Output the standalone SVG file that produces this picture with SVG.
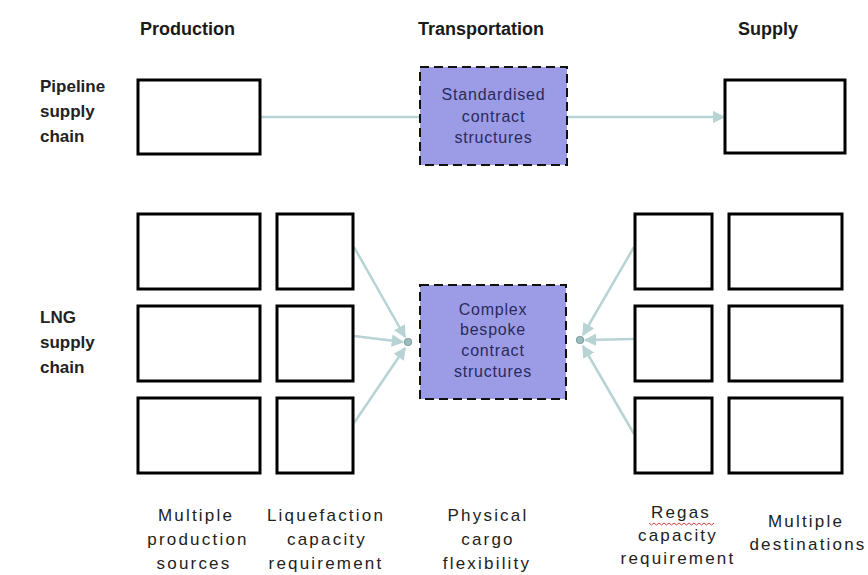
<svg xmlns="http://www.w3.org/2000/svg" width="868" height="575" viewBox="0 0 868 575">
  <defs>
    <style>
      .hdr { font-family: "Liberation Sans", Arial, sans-serif; font-weight: bold; font-size: 18px; fill: #1a1a1a; }
      .side { font-family: "Liberation Sans", Arial, sans-serif; font-weight: bold; font-size: 17px; fill: #222; }
      .cap { font-family: "Liberation Sans", Arial, sans-serif; font-size: 17px; letter-spacing: 2.2px; fill: #222; text-anchor: middle; }
      .inner { font-family: "Liberation Sans", Arial, sans-serif; font-size: 16px; letter-spacing: 0.8px; fill: #2a2a5c; text-anchor: middle; }
      .box { fill: #ffffff; stroke: #000; stroke-width: 3; }
      .deal { fill: #9c9ce6; stroke: #111; stroke-width: 2; stroke-dasharray: 9 5; }
      .link { fill: none; stroke: #b7d3d3; stroke-width: 2.5; }
      .hub { fill: #9fbdbd; stroke: #7fa3a3; stroke-width: 1.2; }
    </style>
    <marker id="head" viewBox="0 0 10 10" refX="9" refY="5" markerWidth="5" markerHeight="5" orient="auto" markerUnits="strokeWidth">
      <path d="M0,0 L10,5 L0,10 z" fill="#b7d3d3"/>
    </marker>
  </defs>
  <rect width="868" height="575" fill="#ffffff"/>

  <!-- column headers -->
  <text class="hdr" x="140" y="35">Production</text>
  <text class="hdr" x="418" y="35">Transportation</text>
  <text class="hdr" x="738" y="35">Supply</text>

  <!-- row labels -->
  <text class="side" x="40" y="92">Pipeline</text>
  <text class="side" x="40" y="117">supply</text>
  <text class="side" x="40" y="142">chain</text>
  <text class="side" x="40" y="323">LNG</text>
  <text class="side" x="40" y="348">supply</text>
  <text class="side" x="40" y="373">chain</text>

  <!-- connectors -->
  <g id="connectors">
    <line class="link" x1="260" y1="117" x2="420" y2="117"/>
    <line class="link" x1="567" y1="117" x2="724" y2="117" marker-end="url(#head)"/>
    <line class="link" x1="354" y1="247" x2="405" y2="337" marker-end="url(#head)"/>
    <line class="link" x1="354" y1="336" x2="403" y2="342" marker-end="url(#head)"/>
    <line class="link" x1="354" y1="423" x2="405" y2="348" marker-end="url(#head)"/>
    <line class="link" x1="634" y1="247" x2="583" y2="335" marker-end="url(#head)"/>
    <line class="link" x1="634" y1="339" x2="585" y2="340" marker-end="url(#head)"/>
    <line class="link" x1="634" y1="434" x2="583" y2="346" marker-end="url(#head)"/>
    <circle class="hub" cx="408" cy="342" r="3.5"/>
    <circle class="hub" cx="580" cy="340" r="3.5"/>
  </g>

  <!-- pipeline chain -->
  <g id="pipe-production"><rect class="box" x="138" y="80" width="122" height="74"/></g>
  <g id="pipe-contract">
    <rect class="deal" x="420" y="67" width="147" height="98"/>
    <text class="inner" x="493.5" y="100">Standardised</text>
    <text class="inner" x="493.5" y="122">contract</text>
    <text class="inner" x="493.5" y="143">structures</text>
  </g>
  <g id="pipe-supply"><rect class="box" x="725" y="80" width="120" height="73"/></g>

  <!-- LNG chain: production sources -->
  <g id="lng-source-1"><rect class="box" x="138" y="214" width="122" height="75"/></g>
  <g id="lng-source-2"><rect class="box" x="138" y="306" width="122" height="75"/></g>
  <g id="lng-source-3"><rect class="box" x="138" y="398" width="122" height="75"/></g>
  <!-- liquefaction -->
  <g id="lng-liq-1"><rect class="box" x="277" y="214" width="76" height="75"/></g>
  <g id="lng-liq-2"><rect class="box" x="277" y="306" width="76" height="75"/></g>
  <g id="lng-liq-3"><rect class="box" x="277" y="398" width="76" height="75"/></g>
  <!-- contract -->
  <g id="lng-contract">
    <rect class="deal" x="420" y="285" width="146" height="114"/>
    <text class="inner" x="493" y="315">Complex</text>
    <text class="inner" x="493" y="335">bespoke</text>
    <text class="inner" x="493" y="356">contract</text>
    <text class="inner" x="493" y="377">structures</text>
  </g>
  <!-- regas -->
  <g id="lng-regas-1"><rect class="box" x="635" y="214" width="77" height="75"/></g>
  <g id="lng-regas-2"><rect class="box" x="635" y="306" width="77" height="75"/></g>
  <g id="lng-regas-3"><rect class="box" x="635" y="398" width="77" height="75"/></g>
  <!-- destinations -->
  <g id="lng-dest-1"><rect class="box" x="729" y="214" width="113" height="75"/></g>
  <g id="lng-dest-2"><rect class="box" x="729" y="306" width="113" height="75"/></g>
  <g id="lng-dest-3"><rect class="box" x="729" y="398" width="113" height="75"/></g>

  <!-- column captions -->
  <text class="cap" x="196" y="521">Multiple</text>
  <text class="cap" x="198" y="545">production</text>
  <text class="cap" x="194" y="569">sources</text>
  <text class="cap" x="326" y="521">Liquefaction</text>
  <text class="cap" x="327" y="545">capacity</text>
  <text class="cap" x="326" y="569">requirement</text>
  <text class="cap" x="488" y="521">Physical</text>
  <text class="cap" x="488" y="545">cargo</text>
  <text class="cap" x="487" y="569">flexibility</text>
  <text class="cap" x="681" y="518">Regas</text>
  <path d="M649,523 l2.5,2 l2.5,-2 l2.5,2 l2.5,-2 l2.5,2 l2.5,-2 l2.5,2 l2.5,-2 l2.5,2 l2.5,-2 l2.5,2 l2.5,-2 l2.5,2 l2.5,-2 l2.5,2 l2.5,-2 l2.5,2 l2.5,-2 l2.5,2 l2.5,-2 l2.5,2 l2.5,-2 l2.5,2 l2.5,-2 l2.5,2 l2.5,-2" fill="none" stroke="#d04040" stroke-width="1"/>
  <text class="cap" x="678" y="541">capacity</text>
  <text class="cap" x="678" y="564">requirement</text>
  <text class="cap" x="806" y="527">Multiple</text>
  <text class="cap" x="808" y="550">destinations</text>
</svg>
